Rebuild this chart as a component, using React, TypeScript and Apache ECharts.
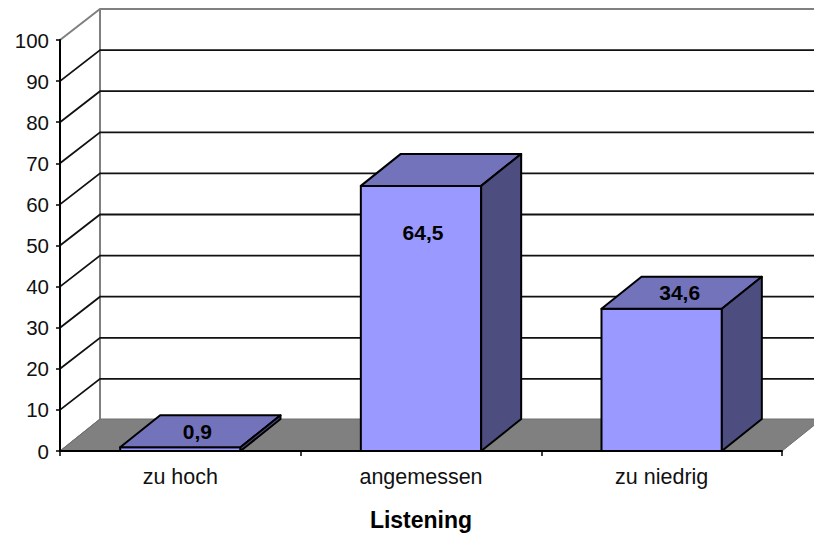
import React, { useEffect, useRef } from "react";
import * as echarts from "echarts";

const categories = ["zu hoch", "angemessen", "zu niedrig"];
const values = [0.9, 64.5, 34.6];
const valueLabels = ["0,9", "64,5", "34,6"];
const yTicks = [10, 20, 30, 40, 50, 60, 70, 80, 90];

const DX = 40;
const DY = -32;
const WALL_DY = -31;
const FRONT = "#9999FF";
const TOP = "#7373BC";
const SIDE = "#4D4D80";
const INK = "#000000";
const WALL = "#808080";
const FONT = "'Liberation Sans', Arial, sans-serif";
const LABEL_DX = [17, 2, 18];
const LABEL_DY = [-16, 47, -16];

function plotEdges(api: any) {
  const band = api.size([1, 0])[0];
  const left = api.coord([0, 0])[0] - band / 2;
  const right = left + band * categories.length;
  return { left, right, band };
}

const renderFrame = (_p: any, api: any) => {
  const { left, right } = plotEdges(api);
  const y0 = api.coord([0, 0])[1];
  const y100 = api.coord([0, 100])[1];
  return {
    type: "group",
    children: [
      {
        type: "polygon",
        shape: { points: [[left, y0], [left + DX, y0 + DY], [right + DX, y0 + DY], [right, y0]] },
        style: { fill: WALL, stroke: "#6e6e6e", lineWidth: 1 },
      },
      {
        type: "polyline",
        shape: { points: [[left, y100], [left + DX, y100 + WALL_DY], [right + DX, y100 + WALL_DY]] },
        style: { fill: "none", stroke: WALL, lineWidth: 2 },
      },
      {
        type: "line",
        shape: { x1: left + DX, y1: y100 + WALL_DY, x2: left + DX, y2: y0 + DY },
        style: { stroke: WALL, lineWidth: 2 },
      },
      {
        type: "line",
        shape: { x1: left, y1: y0, x2: left + DX, y2: y0 + DY },
        style: { stroke: "#6e6e6e", lineWidth: 1 },
      },
    ],
  };
};

const renderGrid = (_p: any, api: any) => {
  const { left, right } = plotEdges(api);
  const y = api.coord([0, api.value(1)])[1];
  return {
    type: "polyline",
    shape: { points: [[left, y], [left + DX, y + WALL_DY], [right + DX, y + WALL_DY]] },
    style: { fill: "none", stroke: "#111111", lineWidth: 1.8 },
  };
};

const renderBar = (p: any, api: any) => {
  const [cx, yTop] = api.coord([api.value(0), api.value(1)]);
  const y0 = api.coord([0, 0])[1];
  const w = api.size([1, 0])[0] / 2;
  const x1 = cx - w / 2;
  const x2 = cx + w / 2;
  const edge = { stroke: INK, lineWidth: 2, lineJoin: "round" };
  return {
    type: "group",
    children: [
      {
        type: "polygon",
        shape: { points: [[x1, y0], [x2, y0], [x2, yTop], [x1, yTop]] },
        style: { fill: FRONT, ...edge },
      },
      {
        type: "polygon",
        shape: { points: [[x1, yTop], [x2, yTop], [x2 + DX, yTop + DY], [x1 + DX, yTop + DY]] },
        style: { fill: TOP, ...edge },
      },
      {
        type: "polygon",
        shape: { points: [[x2, y0], [x2 + DX, y0 + DY], [x2 + DX, yTop + DY], [x2, yTop]] },
        style: { fill: SIDE, ...edge },
      },
      {
        type: "text",
        x: cx + LABEL_DX[p.dataIndex],
        y: yTop + LABEL_DY[p.dataIndex],
        style: {
          text: valueLabels[p.dataIndex],
          fill: INK,
          font: `bold 21px ${FONT}`,
          align: "center",
          verticalAlign: "middle",
        },
      },
    ],
  };
};

export default function App() {
  const ref = useRef<HTMLDivElement>(null);
  useEffect(() => {
    if (!ref.current) return;
    const chart = echarts.init(ref.current, undefined, { renderer: "svg" });
    chart.setOption({
      animation: false,
      backgroundColor: "#ffffff",
      textStyle: { fontFamily: FONT },
      grid: { left: 60, right: 32, top: 40, bottom: 84, outerBoundsMode: "none" },
      xAxis: {
        type: "category",
        data: categories,
        name: "Listening",
        nameLocation: "middle",
        nameGap: 57,
        nameTextStyle: { color: INK, fontWeight: "bold", fontSize: 23, fontFamily: FONT },
        axisLine: { show: true, lineStyle: { color: INK, width: 2 } },
        axisTick: { show: true, length: 5, lineStyle: { color: INK, width: 1.5 } },
        axisLabel: { color: "#111111", fontSize: 21.5, margin: 15, fontFamily: FONT },
        splitLine: { show: false },
        z: 5,
      },
      yAxis: {
        type: "value",
        min: 0,
        max: 100,
        interval: 10,
        axisLine: { show: true, lineStyle: { color: INK, width: 2 } },
        axisTick: { show: true, length: 4, lineStyle: { color: INK, width: 1.5 } },
        axisLabel: { color: "#111111", fontSize: 20.5, margin: 11, fontFamily: FONT },
        splitLine: { show: false },
        z: 5,
      },
      series: [
        { type: "custom", z: 1, clip: false, renderItem: renderFrame, data: [[0, 0]], encode: { x: 0, y: 1 } },
        { type: "custom", z: 2, clip: false, renderItem: renderGrid, data: yTicks.map((v) => [0, v]), encode: { x: 0, y: 1 } },
        { type: "custom", z: 3, clip: false, renderItem: renderBar, data: values.map((v, i) => [i, v]), encode: { x: 0, y: 1 } },
      ],
    });
    return () => chart.dispose();
  }, []);
  return (
    <div style={{ position: "fixed", left: 0, top: 0, width: 814, height: 535, overflow: "hidden" }}>
      <div ref={ref} style={{ width: 814, height: 535 }} />
    </div>
  );
}
